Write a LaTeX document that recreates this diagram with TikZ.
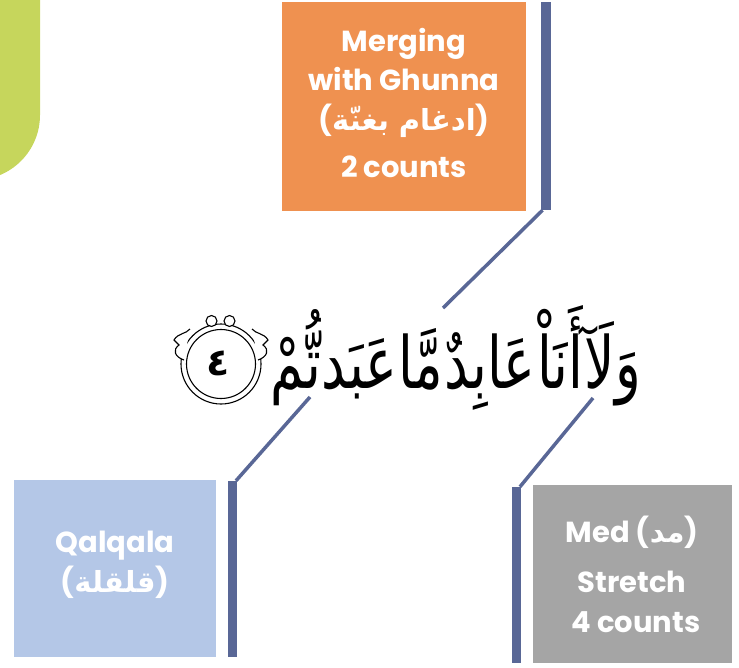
\documentclass[tikz,border=0pt]{standalone}
\usepackage{fontspec}
\usepackage{graphicx}
\TeXXeTstate=1
\newfontfamily\labelfont{Poppins}
\newfontfamily\arabicfont[Script=Arabic]{DejaVu Sans}
\definecolor{limeg}{RGB}{198,214,92}
\definecolor{orangebox}{RGB}{239,145,80}
\definecolor{barblue}{RGB}{89,103,150}
\definecolor{lightblue}{RGB}{180,199,231}
\definecolor{graybox}{RGB}{165,165,165}
\begin{document}
\begin{tikzpicture}[x=1pt,y=-1pt,
  box/.style={rectangle, draw=none, inner sep=0pt},
  bar/.style={rectangle, draw=none, fill=barblue, inner sep=0pt, minimum width=9.5pt},
  diag/.style={draw=barblue, line width=3.5pt},
  lbl/.style={text=white, font=\labelfont\bfseries\fontsize{29}{33}\selectfont, anchor=base, inner sep=0pt},
  ring/.style={draw=black, line width=1.1pt}]
\useasboundingbox (0,0) rectangle (739,667);
% green corner shape
\fill[limeg] (-30,-10) -- (40,-10) -- (40,115) .. controls (40,151) and (11,180) .. (-25,180) -- (-30,180) -- cycle;
% boxes
\node[box, fill=orangebox, minimum width=244pt, minimum height=209pt] (merge) at (404,106.5) {};
\node[box, fill=lightblue, minimum width=202pt, minimum height=177pt] (qalq) at (115,568.5) {};
\node[box, fill=graybox, minimum width=199pt, minimum height=178pt] (med) at (632.5,574) {};
% bars
\node[bar, minimum height=208pt] (bar1) at (546,106) {};
\node[bar, minimum height=176pt] (bar2) at (232.5,569) {};
\node[bar, minimum height=176pt] (bar3) at (516.5,575) {};
% verse anchor points
\coordinate (v1) at (443,308);
\coordinate (v2) at (310,397);
\coordinate (v3) at (593,398);
\draw[diag] ([xshift=1.5pt]bar1.south west) -- (v1);
\draw[diag] ([xshift=-1.5pt]bar2.north east) -- (v2);
\draw[diag] ([xshift=-1.5pt]bar3.north east) -- (v3);
% labels
\node[lbl] (m1) at (404,51) {Merging};
\node[lbl] (m2) at (404,90) {with Ghunna};
\node[lbl] (m3) at (404,130) {({\arabicfont\beginR ادغام بغنّة\endR})};
\node[lbl] (m4) at (404,177) {2 counts};
\node[lbl] (q1) at (115,552) {Qalqala};
\node[lbl] (q2) at (115,592) {({\arabicfont\beginR قلقلة\endR})};
\node[lbl] (d1) at (632,542) {Med ({\arabicfont\beginR مد\endR})};
\node[lbl] (d2) at (632,592) {Stretch};
\node[lbl] (d3) at (636,632) {4 counts};
% verse
\node[anchor=base east, inner sep=0pt] (verse) at (641,388) {\resizebox{370pt}{\height}{\arabicfont\fontsize{72}{84}\selectfont\beginR وَلَآ\kern2pt أَنَاْ\kern2pt عَابِدٌ\kern2pt مَّا\kern2pt عَبَدتُّمْ\endR}};
% ayah marker
\coordinate (ay) at (221,364);
\draw[ring] (ay) circle[radius=40pt];
\draw[ring] (ay) circle[radius=34.5pt];
\draw[ring, fill=white] (211.5,321) circle[radius=5.5pt];
\draw[ring, fill=white] (229.5,321) circle[radius=5.5pt];
\draw[ring, fill=white] (190,329) .. controls (186,334) and (178,333) .. (174,340) -- (179,345) .. controls (172,350) and (175,357) .. (184,360);
\draw[ring, fill=white] (252,329) .. controls (256,334) and (264,333) .. (268,340) -- (263,345) .. controls (270,350) and (267,357) .. (258,360);
\node[font=\arabicfont\bfseries\fontsize{38}{40}\selectfont, inner sep=0pt] (num) at (218,363) {٤};
\end{tikzpicture}
\end{document}
